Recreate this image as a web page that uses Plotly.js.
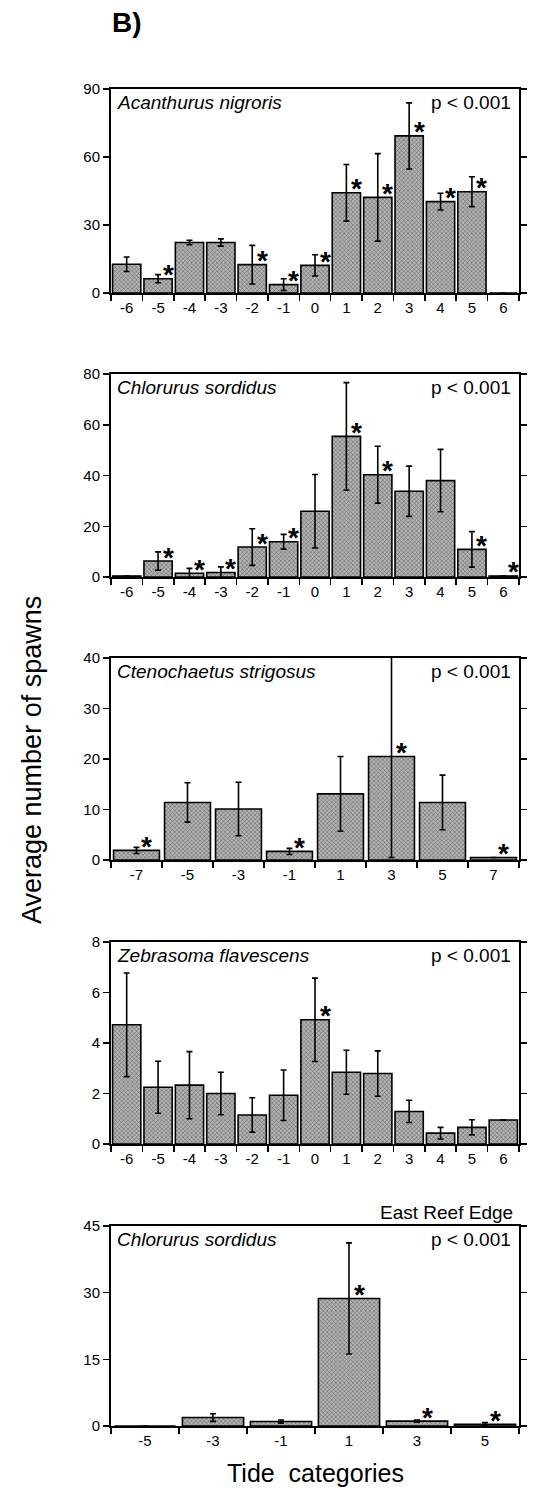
<!DOCTYPE html>
<html>
<head>
<meta charset="utf-8">
<script src="https://cdn.plot.ly/plotly-3.0.1.min.js"></script>
<style>html,body{margin:0;padding:0;background:#fff;}#chart{width:535px;height:1491px;}</style>
</head>
<body>
<div id="chart"></div>
<script>
// ---- Data ----
const cats1 = ['-6','-5','-4','-3','-2','-1','0','1','2','3','4','5','6'];
const vals1 = [12.7, 6.3, 22.3, 22.3, 12.5, 3.7, 12.2, 44.2, 42.2, 69.3, 40.3, 44.7, 0];
const err1  = [3.2, 1.8, 1.0, 1.6, 8.5, 2.6, 4.7, 12.5, 19.3, 14.6, 3.7, 6.6, 0];
const sig1  = [0,1,0,0,1,1,1,1,1,1,1,1,0];

const cats2 = ['-6','-5','-4','-3','-2','-1','0','1','2','3','4','5','6'];
const vals2 = [0.4, 6.3, 1.5, 1.8, 11.8, 13.9, 25.9, 55.4, 40.3, 33.8, 38.0, 10.9, 0.4];
const err2  = [0, 3.6, 1.9, 2.2, 7.2, 2.9, 14.5, 21.2, 11.2, 9.9, 12.3, 7.0, 0];
const sig2  = [0,1,1,1,1,1,0,1,1,0,0,1,1];

const cats3 = ['-7','-5','-3','-1','1','3','5','7'];
const vals3 = [1.9, 11.4, 10.1, 1.7, 13.1, 20.5, 11.4, 0.5];
const err3  = [0.6, 3.9, 5.3, 0.6, 7.4, 20.0, 5.4, 0];
const sig3  = [1,0,0,1,0,1,0,1];

const cats4 = ['-6','-5','-4','-3','-2','-1','0','1','2','3','4','5','6'];
const vals4 = [4.72, 2.25, 2.33, 2.0, 1.15, 1.93, 4.92, 2.84, 2.79, 1.29, 0.43, 0.66, 0.95];
const err4  = [2.05, 1.03, 1.33, 0.84, 0.68, 1.0, 1.65, 0.87, 0.9, 0.44, 0.23, 0.3, 0];
const sig4  = [0,0,0,0,0,0,1,0,0,0,0,0,0];

const cats5 = ['-5','-3','-1','1','3','5'];
const vals5 = [0, 1.9, 1.0, 28.7, 1.1, 0.4];
const err5  = [0, 0.85, 0.35, 12.5, 0.25, 0.35];
const sig5  = [0,0,0,1,1,1];

const species = ['Acanthurus nigroris','Chlorurus sordidus','Ctenochaetus strigosus','Zebrasoma flavescens','Chlorurus sordidus'];
const pTexts  = ['p &lt; 0.001','p &lt; 0.001','p &lt; 0.001','p &lt; 0.001','p &lt; 0.001'];
const yTicks  = [[0,30,60,90],[0,20,40,60,80],[0,10,20,30,40],[0,2,4,6,8],[0,15,30,45]];
const yMax    = [90, 80, 40, 8, 45];

const panelLabel = 'B)';
const yTitle = 'Average number of spawns';
const xTitle = 'Tide  categories';
const siteLabel = 'East Reef Edge';

// ---- Layout geometry ----
const W = 535, H = 1491;
const panelPx = [[89,293],[374,577],[658,860],[942,1144],[1226,1426]];
const xDom = [111/W, 519/W];
const FONT = 'Liberation Sans, Arial, Helvetica, sans-serif';

const panels = [
  {c:cats1,v:vals1,e:err1,s:sig1},
  {c:cats2,v:vals2,e:err2,s:sig2},
  {c:cats3,v:vals3,e:err3,s:sig3},
  {c:cats4,v:vals4,e:err4,s:sig4},
  {c:cats5,v:vals5,e:err5,s:sig5}
];

const traces = [];
const layout = {
  width: W, height: H,
  margin: {l:0,r:0,t:0,b:0},
  paper_bgcolor: '#fff', plot_bgcolor: '#fff',
  showlegend: false,
  bargap: 0.1,
  font: {family: FONT, color: '#000'},
  annotations: []
};

panels.forEach((p, i) => {
  const n = i + 1;
  const xa = n === 1 ? 'x' : 'x' + n;
  const ya = n === 1 ? 'y' : 'y' + n;
  traces.push({
    type: 'bar', x: p.c, y: p.v, xaxis: xa, yaxis: ya,
    marker: {
      color: '#a8a8a8',
      line: {color: '#000', width: 1.6},
      pattern: {shape: 'x', fgcolor: '#555', bgcolor: '#b4b4b4', size: 3, solidity: 0.3}
    },
    error_y: {type: 'data', array: p.e, visible: true, color: '#000', thickness: 1.6, width: 3},
    hoverinfo: 'skip'
  });
  const top = panelPx[i][0], bot = panelPx[i][1];
  layout['xaxis' + (n === 1 ? '' : n)] = {
    type: 'category', domain: xDom, anchor: ya,
    range: [-0.5, p.c.length - 0.5],
    showline: true, linecolor: '#000', linewidth: 2, mirror: true,
    ticks: 'outside', tickson: 'boundaries', ticklen: 6, tickwidth: 1.5, tickcolor: '#000',
    tickfont: {size: 15, family: FONT}, showgrid: false, zeroline: false, fixedrange: true
  };
  layout['yaxis' + (n === 1 ? '' : n)] = {
    domain: [1 - bot / H, 1 - top / H], anchor: xa,
    range: [0, yMax[i]], tickmode: 'array', tickvals: yTicks[i],
    showline: true, linecolor: '#000', linewidth: 2, mirror: 'ticks',
    ticks: 'outside', ticklen: 6, tickwidth: 1.5, tickcolor: '#000',
    tickfont: {size: 15, family: FONT}, showgrid: false, zeroline: false, fixedrange: true
  };
  // species name + p value
  layout.annotations.push({
    xref: xa + ' domain', yref: ya + ' domain', x: 0.01, y: 0.995,
    xanchor: 'left', yanchor: 'top', showarrow: false,
    text: '<i>' + species[i] + '</i>', font: {size: 19, family: FONT}
  });
  layout.annotations.push({
    xref: xa + ' domain', yref: ya + ' domain', x: 0.985, y: 0.995,
    xanchor: 'right', yanchor: 'top', showarrow: false,
    text: pTexts[i], font: {size: 19, family: FONT}
  });
  // significance stars (x given as category index)
  p.c.forEach((c, k) => {
    if (p.s[k]) {
      layout.annotations.push({
        xref: xa, yref: ya, x: k, y: p.v[k],
        xanchor: 'center', yanchor: 'middle', xshift: 10, yshift: 4,
        showarrow: false, text: '<b>*</b>', font: {size: 28, family: FONT}
      });
    }
  });
});

layout.annotations.push({
  xref: 'x5 domain', yref: 'y5 domain', x: 0.99, y: 1, yshift: 1,
  xanchor: 'right', yanchor: 'bottom', showarrow: false,
  text: siteLabel, font: {size: 19, family: FONT}
});
layout.annotations.push({
  xref: 'paper', yref: 'paper', x: 127 / W, y: 1 - 23 / H,
  xanchor: 'center', yanchor: 'middle', showarrow: false,
  text: '<b>' + panelLabel + '</b>', font: {size: 28, family: FONT}
});
layout.annotations.push({
  xref: 'paper', yref: 'paper', x: 32 / W, y: 1 - 760 / H,
  xanchor: 'center', yanchor: 'middle', showarrow: false, textangle: -90,
  text: yTitle, font: {size: 27, family: FONT}
});
layout.annotations.push({
  xref: 'paper', yref: 'paper', x: 315 / W, y: 1 - 1473 / H,
  xanchor: 'center', yanchor: 'middle', showarrow: false,
  text: xTitle, font: {size: 25, family: FONT}
});

Plotly.newPlot('chart', traces, layout, {displayModeBar: false, staticPlot: true});
</script>
</body>
</html>
